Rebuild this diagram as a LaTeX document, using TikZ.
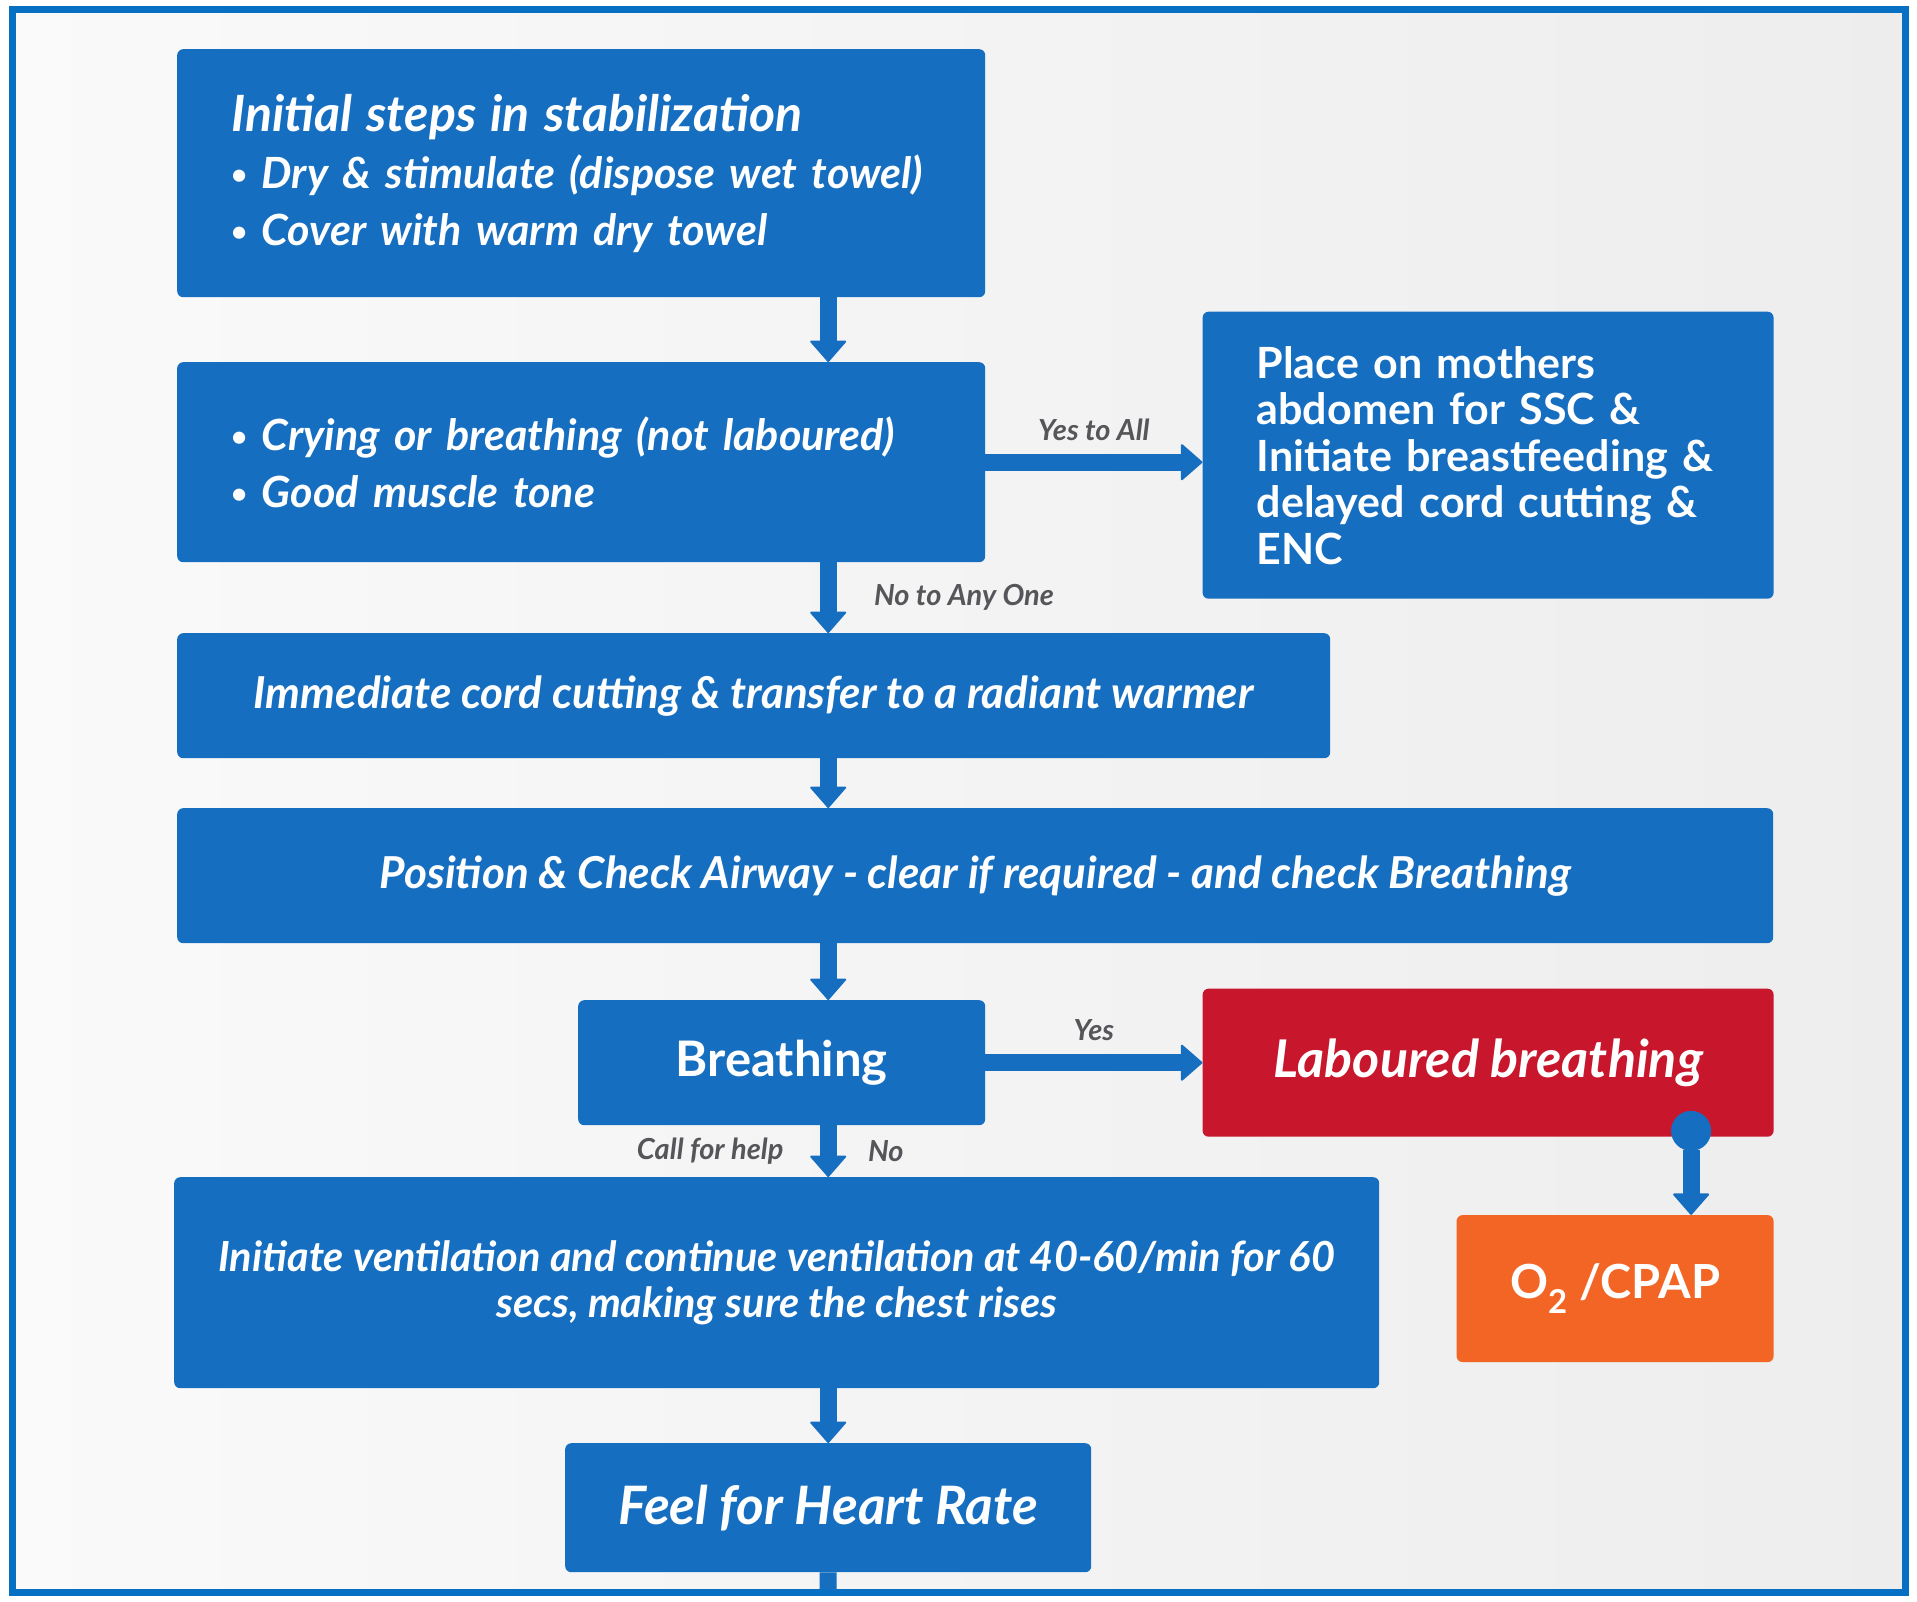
\documentclass[tikz,border=0pt]{standalone}
\usepackage{fontspec}
\setmainfont{Lato}
\usetikzlibrary{positioning,arrows.meta}
\definecolor{boxblue}{RGB}{22,110,192}
\definecolor{alertred}{RGB}{200,22,44}
\definecolor{cpaporange}{RGB}{243,101,36}
\definecolor{frameblue}{RGB}{8,112,194}
\definecolor{taggray}{RGB}{85,85,90}
\newcommand{\bul}{\raisebox{4pt}{\fontsize{28}{28}\selectfont•}\ }

\begin{document}
\begin{tikzpicture}
   [x=1pt,y=-1pt,
    box/.style={rectangle,rounded corners=6pt,fill=boxblue,text=white,
      inner sep=0pt,font=\bfseries\itshape\fontsize{43}{57}\selectfont},
    link/.style={draw=boxblue,line width=17pt,
      -{Triangle[round,width=38pt,length=22pt,line width=2pt]}},
    tag/.style={text=taggray,font=\bfseries\itshape\fontsize{29}{32}\selectfont}]

\useasboundingbox (0,0) rectangle (1917,1602);
\shade[left color=white!96!gray,right color=gray!14] (12,10) rectangle (1905,1592);

% main column
\node [box,anchor=north west,minimum width=808pt,minimum height=248pt,
  text width=700pt,inner xsep=54pt,align=left] (init) at (177,49) {
  {\fontsize{50}{57}\selectfont Initial steps in stabilization}\\
  \bul Dry \& stimulate (dispose wet towel)\\
  \bul Cover with warm dry towel};
\node [box,anchor=north west,minimum width=808pt,minimum height=200pt,
  text width=700pt,inner xsep=54pt,align=left] (crying) at (177,362) {
  \bul Crying or breathing (not laboured)\\
  \bul Good muscle tone};
\node [box,font=\bfseries\itshape\fontsize{44}{50}\selectfont,anchor=north west,
  minimum width=1153pt,minimum height=125pt] (cord) at (177,633)
  {Immediate cord cutting \& transfer to a radiant warmer};
\node [box,font=\bfseries\itshape\fontsize{44}{50}\selectfont,anchor=north west,
  minimum width=1596pt,minimum height=135pt] (airway) at (177,808)
  {Position \& Check Airway - clear if required - and check Breathing};
\node [box,font=\bfseries\fontsize{49}{55}\selectfont,anchor=north west,
  minimum width=407pt,minimum height=125pt] (breath) at (578,1000) {Breathing};
\node [box,anchor=north west,minimum width=1205pt,minimum height=211pt,
  align=center,font=\bfseries\itshape\fontsize{41.5}{46.5}\selectfont] (vent) at (174,1177)
  {Initiate ventilation and continue ventilation at 40-60/min for 60\\
   secs, making sure the chest rises};
\node [box,font=\bfseries\itshape\fontsize{53}{58}\selectfont,anchor=north west,
  minimum width=526pt,minimum height=129pt] (feel) at (565,1443) {Feel for Heart Rate};

% side boxes
\node [box,font=\bfseries\fontsize{43}{46.5}\selectfont,minimum width=571pt,
  minimum height=287pt,text width=463pt,inner xsep=54pt,align=left,
  right=217pt of crying,yshift=7pt] (mother) {
  Place on mothers\\ abdomen for SSC \&\\ Initiate breastfeeding \&\\
  delayed cord cutting \&\\ ENC};
\node [box,fill=alertred,font=\bfseries\itshape\fontsize{52}{58}\selectfont,
  minimum width=571pt,minimum height=148pt,right=217pt of breath] (laboured)
  {Laboured breathing};
\node [box,fill=cpaporange,font=\bfseries\fontsize{47}{52}\selectfont,
  minimum width=317pt,minimum height=147pt,below=78pt of laboured.south east,
  anchor=north east] (cpap) {O\textsubscript{2} /CPAP};

\coordinate (edge) at (828,1592);

% connectors
\draw [link] (init.south -| feel.north) -- (crying.north -| feel.north);
\draw [link] (crying.east) -- (mother.west |- crying.east)
  node [tag,midway,above=10pt] {Yes to All};
\draw [link] (crying.south -| feel.north) -- (cord.north -| feel.north)
  node [tag,midway,right=34pt] {No to Any One};
\draw [link] (cord.south -| feel.north) -- (airway.north -| feel.north);
\draw [link] (airway.south -| feel.north) -- (breath.north -| feel.north);
\draw [link] (breath.east) -- (laboured.west)
  node [tag,midway,above=10pt] {Yes};
\draw [link] (breath.south -| feel.north) -- (vent.north -| feel.north)
  node [tag,midway,right=28pt] {No}
  node [tag,midway,left=33pt] {Call for help};
\draw [link,{Circle[length=40pt,line width=1pt]}-{Triangle[round,width=38pt,length=22pt,line width=2pt]}]
  ([xshift=203pt,yshift=26pt]laboured.south) -- ([xshift=76pt]cpap.north);
\draw [link] (vent.south -| feel.north) -- (feel.north);
\draw [boxblue,line width=17pt] (feel.south) -- (edge);

\draw [frameblue,line width=7pt] (12,10) rectangle (1905,1592);
\end{tikzpicture}
\end{document}
